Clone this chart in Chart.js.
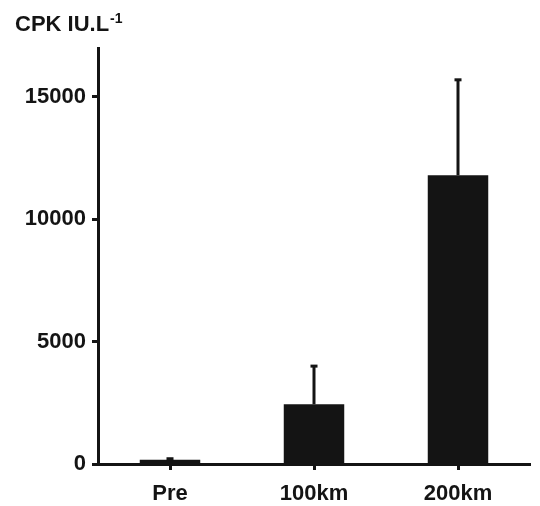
<!DOCTYPE html>
<html>
<head>
<meta charset="utf-8">
<script src="https://cdn.jsdelivr.net/npm/chart.js@4"></script>
<style>
  html, body { margin: 0; padding: 0; background: #fff; }
  #wrap { width: 540px; height: 506px; position: relative; }
</style>
</head>
<body>
<div id="wrap"><canvas id="myChart"></canvas></div>
<script>
// datos
let etapas = ['Pre', '100km', '200km']
let cpkMedia = [175, 2440, 11800]
let cpkDE = [40, 1560, 3900]
let yTicks = [0, 5000, 10000, 15000]

const negro = '#141414'
const fuente = { family: 'Liberation Sans, Arial, sans-serif', size: 22, weight: 'bold' }

// barras de error (solo hacia arriba)
const errorBars = {
    id: 'errorBars',
    afterDatasetsDraw(chart) {
        const ctx = chart.ctx
        const y = chart.scales.y
        const meta = chart.getDatasetMeta(0)
        ctx.save()
        ctx.strokeStyle = negro
        ctx.fillStyle = negro
        ctx.lineWidth = 3
        meta.data.forEach((bar, i) => {
            const top = y.getPixelForValue(cpkMedia[i] + cpkDE[i])
            ctx.beginPath()
            ctx.moveTo(bar.x, bar.y)
            ctx.lineTo(bar.x, top)
            ctx.stroke()
            ctx.fillRect(bar.x - 3.5, top - 1.5, 7, 3)
        })
        ctx.restore()
    }
}

// titulo del eje con superindice
const tituloEje = {
    id: 'tituloEje',
    afterDraw(chart) {
        const ctx = chart.ctx
        ctx.save()
        ctx.fillStyle = negro
        ctx.textBaseline = 'alphabetic'
        ctx.font = 'bold 22px Liberation Sans, Arial, sans-serif'
        const txt = 'CPK IU.L'
        ctx.fillText(txt, 15, 31)
        const w = ctx.measureText(txt).width
        ctx.font = 'bold 14px Liberation Sans, Arial, sans-serif'
        ctx.fillText('-1', 15 + w + 1, 23)
        ctx.restore()
    }
}

const ctx = document.getElementById('myChart')
new Chart(ctx, {
    type: 'bar',
    data: {
        labels: etapas,
        datasets: [
            {
                label: 'CPK',
                data: cpkMedia,
                backgroundColor: negro,
                borderWidth: 0,
                barPercentage: 0.42,
                categoryPercentage: 1,
            },
        ]
    },
    options: {
        responsive: true,
        maintainAspectRatio: false,
        animation: false,
        layout: { padding: { top: 48, right: 10, left: 0, bottom: 0 } },
        scales: {
            x: {
                offset: true,
                grid: { display: true, offset: false, drawOnChartArea: false, drawTicks: true, tickLength: 6, tickWidth: 3, tickColor: negro },
                border: { display: true, color: negro, width: 3 },
                ticks: { color: negro, font: fuente, padding: 11 },
                afterFit(scale) { scale.height = 42 }
            },
            y: {
                min: 0,
                max: 17000,
                afterBuildTicks(scale) { scale.ticks = yTicks.map(v => ({ value: v })) },
                grid: { display: true, drawOnChartArea: false, drawTicks: true, tickLength: 6, tickWidth: 3, tickColor: negro },
                border: { display: true, color: negro, width: 3 },
                ticks: { color: negro, font: fuente, padding: 6, callback: v => String(v) },
                afterFit(scale) { scale.width = 98 }
            }
        },
        plugins: {
            legend: { display: false },
            tooltip: { enabled: false }
        }
    },
    plugins: [errorBars, tituloEje]
});
</script>
</body>
</html>
